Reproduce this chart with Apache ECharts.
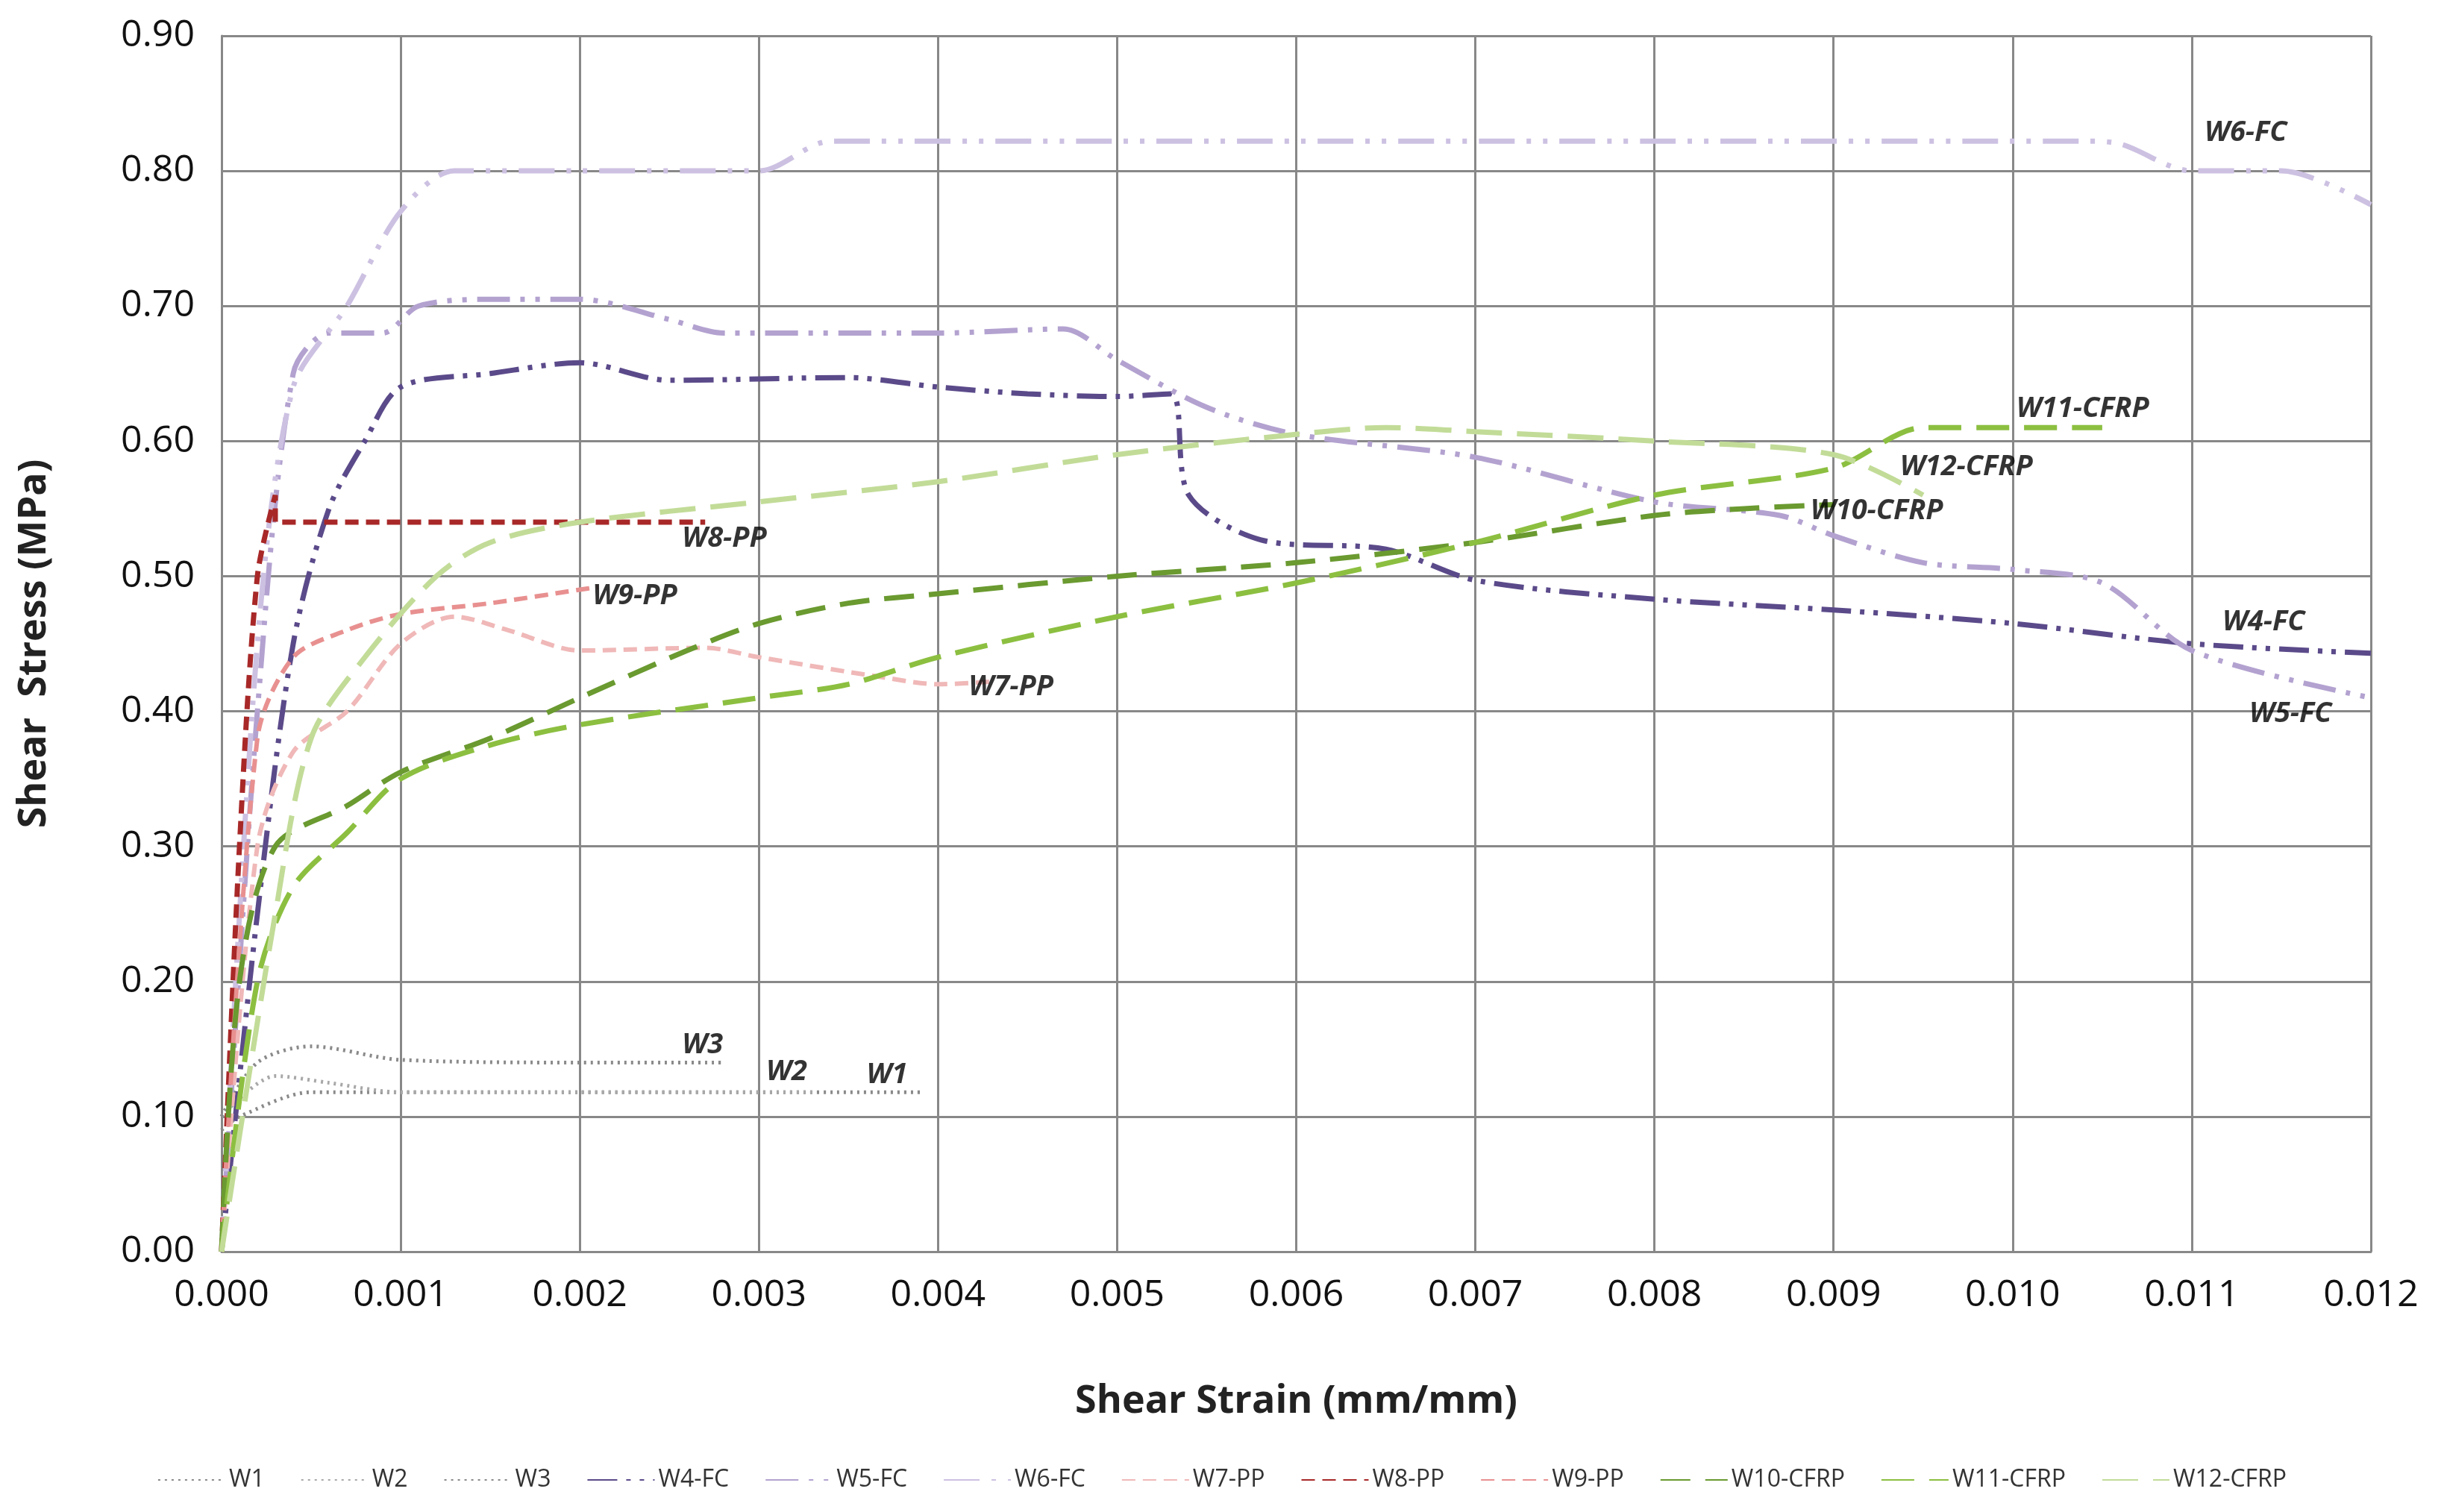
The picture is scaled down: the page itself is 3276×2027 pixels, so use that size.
<!DOCTYPE html><html><head><meta charset="utf-8"><script src="https://cdn.jsdelivr.net/npm/echarts@6/dist/echarts.min.js"></script>
<style>html,body{margin:0;background:#fff}#c{width:3276px;height:2027px}</style></head><body><div id="c"></div><script>
const W1=[[0,0.09],[0.0001,0.1],[0.0005,0.118],[0.001,0.118],[0.002,0.118],[0.0039,0.118]];
const W2=[[0,0.1],[0.0003,0.13],[0.0006,0.125],[0.001,0.118],[0.002,0.118],[0.0033,0.118]];
const W3=[[0,0.1],[0.0002,0.14],[0.0005,0.152],[0.001,0.142],[0.002,0.14],[0.0028,0.14]];
const W4=[[0,0],[0.0002,0.25],[0.0004,0.45],[0.0006,0.55],[0.0008,0.6],[0.001,0.64],[0.0015,0.65],[0.002,0.658],[0.0025,0.645],[0.0035,0.647],[0.004,0.64],[0.0045,0.635],[0.005,0.633],[0.0053,0.635],[0.0054,0.56],[0.0058,0.527],[0.0065,0.52],[0.007,0.497],[0.008,0.483],[0.009,0.475],[0.010,0.465],[0.011,0.45],[0.012,0.443]];
const W5=[[0,0],[0.0002,0.4],[0.0004,0.65],[0.0006,0.68],[0.0009,0.68],[0.0011,0.7],[0.0015,0.705],[0.002,0.705],[0.0025,0.69],[0.0028,0.68],[0.004,0.68],[0.0047,0.683],[0.005,0.66],[0.0055,0.625],[0.006,0.605],[0.007,0.588],[0.008,0.555],[0.0087,0.545],[0.009,0.53],[0.0095,0.51],[0.01,0.505],[0.0105,0.495],[0.011,0.445],[0.012,0.41]];
const W6=[[0,0],[0.0002,0.45],[0.0004,0.64],[0.0007,0.7],[0.001,0.77],[0.0013,0.8],[0.002,0.8],[0.003,0.8],[0.0034,0.822],[0.005,0.822],[0.008,0.822],[0.0104,0.822],[0.0106,0.82],[0.011,0.8],[0.0115,0.8],[0.012,0.775]];
const W7=[[0,0],[0.0002,0.3],[0.0004,0.37],[0.0007,0.4],[0.001,0.45],[0.0013,0.47],[0.0016,0.46],[0.002,0.445],[0.0027,0.447],[0.003,0.44],[0.0037,0.425],[0.004,0.42],[0.0043,0.422]];
const W8=[[0,0],[0.0001,0.3],[0.0002,0.5],[0.0003,0.56],[0.0003,0.54],[0.001,0.54],[0.002,0.54],[0.0027,0.54]];
const W9=[[0,0],[0.0002,0.38],[0.0004,0.44],[0.0007,0.46],[0.001,0.472],[0.0015,0.48],[0.002,0.49],[0.0021,0.492]];
const W10=[[0,0],[0.0001,0.2],[0.0003,0.3],[0.0007,0.33],[0.001,0.355],[0.0015,0.38],[0.002,0.41],[0.0026,0.445],[0.003,0.465],[0.0035,0.48],[0.004,0.487],[0.005,0.5],[0.006,0.51],[0.007,0.525],[0.008,0.545],[0.0085,0.55],[0.009,0.553]];
const W11=[[0,0],[0.0002,0.2],[0.0004,0.27],[0.0007,0.31],[0.001,0.35],[0.0015,0.375],[0.002,0.39],[0.003,0.41],[0.0035,0.42],[0.004,0.44],[0.005,0.47],[0.006,0.495],[0.007,0.525],[0.008,0.56],[0.009,0.58],[0.0095,0.61],[0.01,0.61],[0.0105,0.61]];
const W12=[[0,0],[0.0003,0.25],[0.0005,0.38],[0.0008,0.44],[0.0012,0.5],[0.0015,0.525],[0.002,0.54],[0.003,0.555],[0.004,0.57],[0.005,0.59],[0.006,0.605],[0.0065,0.61],[0.007,0.607],[0.008,0.6],[0.009,0.59],[0.0095,0.56]];
const names=['W1','W2','W3','W4-FC','W5-FC','W6-FC','W7-PP','W8-PP','W9-PP','W10-CFRP','W11-CFRP','W12-CFRP'];
const datas=[W1,W2,W3,W4,W5,W6,W7,W8,W9,W10,W11,W12];
const colors=['#8a8a8a','#a8a8a8','#8a8a8a','#5b4a8a','#b3a2d0','#cdc1e2','#f0b8b8','#a82828','#e89090','#6a9a30','#8cbf40','#c2dc98'];
const dashes=[[3,6],[3,6],[3,6],[40,12,6,12,6,12],[44,14,6,14,6,14],[48,16,6,16,6,16],[18,10],[18,10],[18,10],[40,20],[44,20],[48,20]];
const widths=[5,5,5,7,7,7,6,7,6,7,7,7];
const labelText=['W1','W2','W3','W4-FC','W5-FC','W6-FC','W7-PP','W8-PP','W9-PP','W10-CFRP','W11-CFRP','W12-CFRP'];
const labelPos=[[0.00358,0.131],[0.00302,0.133],[0.00255,0.153],[0.01115,0.466],[0.0113,0.398],[0.01105,0.828],[0.00415,0.418],[0.00255,0.528],[0.00205,0.485],[0.00885,0.548],[0.01,0.624],[0.00935,0.581]];
const series=names.map((n,i)=>({name:n,type:'line',data:datas[i],smooth:0.3,showSymbol:false,symbol:'none',
 lineStyle:{color:colors[i],width:widths[i],type:dashes[i]},itemStyle:{color:colors[i]},z:3}));
series.push({type:'scatter',symbolSize:0,silent:true,data:labelPos.map((p,i)=>({value:p,label:{formatter:labelText[i]}})),
 label:{show:true,position:'right',fontFamily:'Open Sans',fontWeight:'bold',fontStyle:'italic',fontSize:38,color:'#000'},z:5});
const chart=echarts.init(document.getElementById('c'));
chart.setOption({animation:false,
 grid:{left:297,right:98,top:48,bottom:349,containLabel:false},
 legend:{data:names,bottom:22,left:'center',itemWidth:90,itemHeight:20,itemGap:48,itemStyle:{opacity:0},
  textStyle:{fontFamily:'Open Sans',fontSize:32,color:'#333'}},
 xAxis:{type:'value',min:0,max:0.012,interval:0.001,name:'Shear Strain (mm/mm)',nameLocation:'middle',nameGap:175,
  nameTextStyle:{fontFamily:'Open Sans',fontWeight:'bold',fontSize:52,color:'#222'},
  axisLabel:{formatter:v=>v.toFixed(3),fontFamily:'Open Sans',fontSize:50,color:'#111',margin:34},
  axisLine:{lineStyle:{color:'#888',width:3}},axisTick:{show:false},splitLine:{show:true,lineStyle:{color:'#888',width:3}}},
 yAxis:{type:'value',min:0,max:0.9,interval:0.1,name:'Shear  Stress (MPa)',nameLocation:'middle',nameGap:225,
  nameTextStyle:{fontFamily:'Open Sans',fontWeight:'bold',fontSize:52,color:'#222'},
  axisLabel:{formatter:v=>v.toFixed(2),fontFamily:'Open Sans',fontSize:50,color:'#111',margin:36},
  axisLine:{show:true,lineStyle:{color:'#888',width:3}},axisTick:{show:false},splitLine:{show:true,lineStyle:{color:'#888',width:3}}},
 series});
</script></body></html>
